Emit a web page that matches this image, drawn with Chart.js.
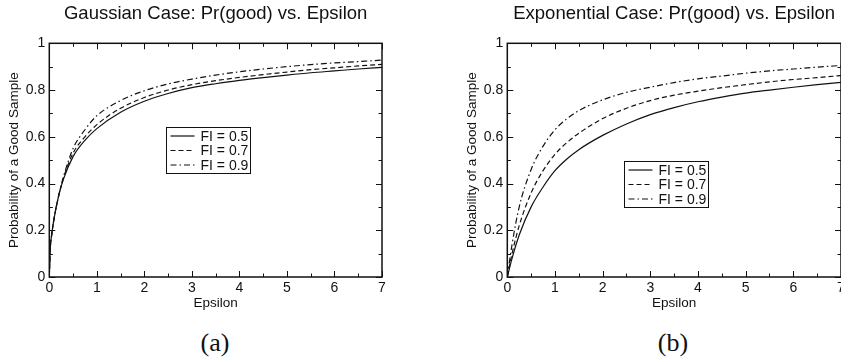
<!DOCTYPE html>
<html>
<head>
<meta charset="utf-8">
<script src="https://cdn.jsdelivr.net/npm/chart.js@4.4.0/dist/chart.umd.min.js"></script>
<style>
  html, body { margin: 0; padding: 0; background: #fff; }
  body { width: 841px; height: 363px; position: relative; overflow: hidden; }
  canvas { position: absolute; top: 0; }
  .cap { position: absolute; top: 328px; font-family: "Liberation Serif", "DejaVu Serif", serif; font-size: 26px; color: #111; transform: translateX(-50%); }
</style>
</head>
<body>
<canvas id="gaussChart" width="420" height="314" style="left:0px"></canvas>
<canvas id="expChart" width="421" height="314" style="left:458px"></canvas>
<div class="cap" style="left:215px">(a)</div>
<div class="cap" style="left:673px">(b)</div>
<script>
// Gaussian case
const gaussEps  = [0, 0.02, 0.05, 0.1, 0.2, 0.3, 0.5, 0.75, 1, 1.5, 2, 2.5, 3, 3.5, 4, 4.5, 5, 5.5, 6, 6.5, 7];
const gaussFi05 = [0, 0.12, 0.18, 0.25, 0.35, 0.42, 0.515, 0.585, 0.635, 0.705, 0.752, 0.785, 0.81, 0.827, 0.841, 0.853, 0.864, 0.874, 0.882, 0.89, 0.897];
const gaussFi07 = [0, 0.12, 0.18, 0.25, 0.35, 0.425, 0.53, 0.60, 0.652, 0.722, 0.768, 0.80, 0.823, 0.84, 0.854, 0.866, 0.877, 0.887, 0.895, 0.903, 0.91];
const gaussFi09 = [0, 0.12, 0.18, 0.25, 0.35, 0.43, 0.55, 0.63, 0.69, 0.755, 0.797, 0.826, 0.847, 0.864, 0.878, 0.89, 0.90, 0.909, 0.916, 0.922, 0.928];

// Exponential case
const expEps  = [0, 0.1, 0.25, 0.5, 0.75, 1, 1.25, 1.5, 2, 2.5, 3, 3.5, 4, 4.5, 5, 5.5, 6, 6.5, 7];
const expFi05 = [0, 0.08, 0.18, 0.30, 0.385, 0.455, 0.505, 0.545, 0.606, 0.655, 0.695, 0.725, 0.75, 0.77, 0.787, 0.80, 0.812, 0.823, 0.833];
const expFi07 = [0, 0.10, 0.22, 0.36, 0.455, 0.525, 0.575, 0.615, 0.678, 0.722, 0.755, 0.778, 0.795, 0.81, 0.823, 0.835, 0.845, 0.853, 0.862];
const expFi09 = [0, 0.14, 0.30, 0.46, 0.56, 0.63, 0.677, 0.712, 0.758, 0.79, 0.812, 0.832, 0.848, 0.86, 0.872, 0.882, 0.89, 0.898, 0.905];

const legendLabels = ['FI = 0.5', 'FI = 0.7', 'FI = 0.9'];
const lineDashes = [[], [5, 3], [6, 3, 1.5, 3]];
const xTicks = [0, 1, 2, 3, 4, 5, 6, 7];
const yTicks = [0, 0.2, 0.4, 0.6, 0.8, 1];

const FONT = '"Liberation Sans", Arial, Helvetica, sans-serif';
const INK = '#111';

// frame with inward ticks on all four sides, plus a boxed legend inside the plot
const framePlugin = {
    id: 'frame',
    afterDraw(chart, args, opts) {
        const { ctx, chartArea: a, scales } = chart;
        const x = scales.x, y = scales.y;
        ctx.save();
        ctx.strokeStyle = INK;
        ctx.lineWidth = 1.5;
        ctx.setLineDash([]);
        ctx.strokeRect(a.left, a.top, a.right - a.left, a.bottom - a.top);

        ctx.lineWidth = 1;
        ctx.beginPath();
        for (let v = 0; v <= 7.001; v += 0.5) {
            const px = Math.round(x.getPixelForValue(v)) + 0.5;
            const len = Number.isInteger(v) ? 6 : 3.5;
            ctx.moveTo(px, a.bottom); ctx.lineTo(px, a.bottom - len);
            ctx.moveTo(px, a.top); ctx.lineTo(px, a.top + len);
        }
        for (let i = 0; i <= 10; i++) {
            const py = Math.round(y.getPixelForValue(i / 10)) + 0.5;
            const len = i % 2 === 0 ? 6 : 3.5;
            ctx.moveTo(a.left, py); ctx.lineTo(a.left + len, py);
            ctx.moveTo(a.right, py); ctx.lineTo(a.right - len, py);
        }
        ctx.stroke();

        // legend
        const bx = Math.round(a.left + opts.fx * (a.right - a.left)) + 0.5;
        const by = Math.round(a.top + opts.fy * (a.bottom - a.top)) + 0.5;
        const bw = 84, bh = 46;
        ctx.fillStyle = '#fff';
        ctx.fillRect(bx, by, bw, bh);
        ctx.lineWidth = 1;
        ctx.strokeRect(bx, by, bw, bh);
        ctx.font = '14px ' + FONT;
        ctx.textBaseline = 'middle';
        ctx.fillStyle = INK;
        legendLabels.forEach((lab, i) => {
            const ry = by + 8.5 + i * 14.5;
            ctx.setLineDash(lineDashes[i]);
            ctx.lineWidth = 1.2;
            ctx.beginPath();
            ctx.moveTo(bx + 4, ry); ctx.lineTo(bx + 28, ry);
            ctx.stroke();
            ctx.setLineDash([]);
            ctx.fillText(lab, bx + 34, ry + 1);
        });
        ctx.restore();
    }
};

function makeChart(canvas, title, eps, series, legendPos) {
    return new Chart(canvas, {
        type: 'line',
        data: {
            datasets: series.map((vals, i) => ({
                label: legendLabels[i],
                data: eps.map((e, j) => ({ x: e, y: vals[j] })),
                borderColor: INK,
                borderWidth: 1.2,
                borderDash: lineDashes[i],
                pointRadius: 0,
                fill: false,
                cubicInterpolationMode: 'monotone'
            }))
        },
        options: {
            responsive: false,
            animation: false,
            devicePixelRatio: 1,
            layout: { padding: { left: 0, right: 38, top: 0, bottom: 3 } },
            scales: {
                x: {
                    type: 'linear', min: 0, max: 7,
                    afterBuildTicks: s => { s.ticks = xTicks.map(v => ({ value: v })); },
                    afterFit: s => { s.height = 34; },
                    grid: { display: false, drawTicks: false },
                    border: { display: false },
                    ticks: { color: INK, font: { family: FONT, size: 14 }, padding: 3, maxRotation: 0,
                             callback: v => String(v) },
                    title: { display: true, text: 'Epsilon', color: INK, font: { family: FONT, size: 13.5 }, padding: { top: 0, bottom: 0 } }
                },
                y: {
                    min: 0, max: 1,
                    afterBuildTicks: s => { s.ticks = yTicks.map(v => ({ value: v })); },
                    afterFit: s => { s.width = 49.3; },
                    grid: { display: false, drawTicks: false },
                    border: { display: false },
                    ticks: { color: INK, font: { family: FONT, size: 14 }, padding: 4,
                             callback: v => String(+v.toFixed(1)) },
                    title: { display: true, text: 'Probability of a Good Sample', color: INK, font: { family: FONT, size: 13.5 }, padding: { top: 6, bottom: 0 } }
                }
            },
            plugins: {
                legend: { display: false },
                tooltip: { enabled: false },
                title: {
                    display: true, text: title, color: INK, fullSize: false,
                    font: { family: FONT, size: 18.5, weight: 'normal' },
                    padding: { top: 3, bottom: 18.1 }
                },
                frame: legendPos
            }
        },
        plugins: [framePlugin]
    });
}

makeChart(document.getElementById('gaussChart'), 'Gaussian Case: Pr(good) vs. Epsilon',
    gaussEps, [gaussFi05, gaussFi07, gaussFi09], { fx: 0.35, fy: 0.358 });
makeChart(document.getElementById('expChart'), 'Exponential Case: Pr(good) vs. Epsilon',
    expEps, [expFi05, expFi07, expFi09], { fx: 0.349, fy: 0.503 });
</script>
</body>
</html>
